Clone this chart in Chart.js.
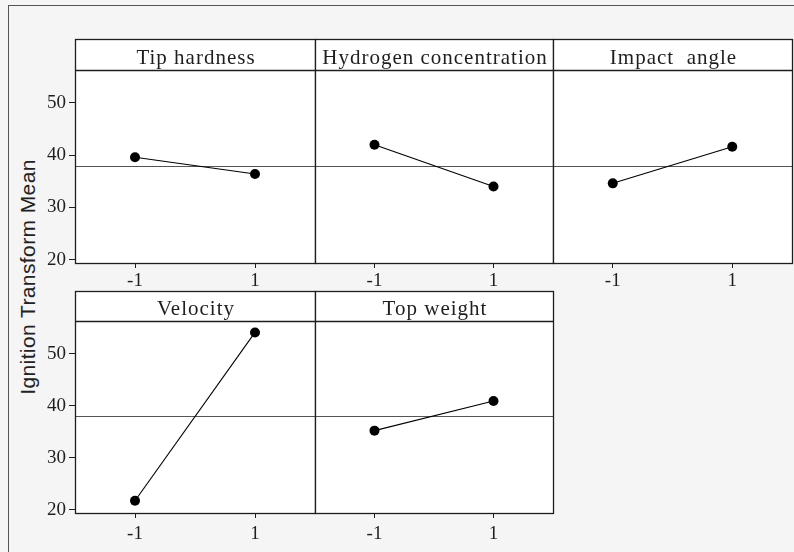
<!DOCTYPE html>
<html>
<head>
<meta charset="utf-8">
<script src="https://cdn.jsdelivr.net/npm/chart.js@4.4.1/dist/chart.umd.min.js"></script>
<style>
    html, body {
        margin: 0;
        padding: 0;
        width: 794px;
        height: 552px;
        overflow: hidden;
        background: #f5f5f5;
    }
    .outer-frame {
        position: absolute;
        left: 8px;
        top: 5px;
        width: 820px;
        height: 580px;
        border-left: 1px solid #555;
        border-top: 1px solid #555;
    }
    .panel {
        position: absolute;
    }
    .y-title {
        position: absolute;
        left: 28px;
        top: 277px;
        transform: translate(-50%, -50%) rotate(-90deg);
        white-space: nowrap;
        font-family: 'Liberation Sans', Arial, sans-serif;
        font-size: 21px;
        letter-spacing: 0.4px;
        color: #222;
    }
</style>
</head>
<body>
<div class="outer-frame"></div>
<div class="y-title">Ignition Transform Mean</div>

<script>
    // factor names (panel titles) and the two coded levels
    const factors = ['Tip hardness', 'Hydrogen concentration', 'Impact  angle', 'Velocity', 'Top weight'];
    const levels = [-1, 1];
    const levelLabels = ['-1', '1'];

    // mean response at each level
    const tipHardness = [39.6, 36.4];
    const hydrogenConcentration = [42.0, 34.0];
    const impactAngle = [34.6, 41.6];
    const velocity = [21.7, 54.1];
    const topWeight = [35.2, 40.9];

    const overallMean = 38.0;
    const yTicks = [20, 30, 40, 50];
    const yMin = 19.35;
    const yMax = 56.3;
    const xMin = -2;
    const xMax = 2;

    const seriesList = [tipHardness, hydrogenConcentration, impactAngle, velocity, topWeight];

    // page layout of the 2x3 grid (px)
    const rows = [
        { frameTop: 39, sep: 70, bottom: 263, labelPad: 2 },
        { frameTop: 291, sep: 321, bottom: 513, labelPad: 5 },
    ];
    const cols = [
        { left: 75, right: 315 },
        { left: 315, right: 553 },
        { left: 553, right: 792 },
    ];
    const MARGIN_L = 60;
    const MARGIN_B = 34;
    const MARGIN_R = 2;

    const serif = "'Liberation Serif', 'Times New Roman', serif";
    const ink = '#1e1e1e';

    // white panel, title strip, reference line and frame
    const panelPlugin = {
        id: 'panelFrame',
        beforeDraw(chart, args, opts) {
            const { ctx, chartArea } = chart;
            ctx.save();
            ctx.fillStyle = '#fff';
            ctx.fillRect(chartArea.left, opts.stripTop, chartArea.right - chartArea.left, chartArea.bottom - opts.stripTop);
            ctx.restore();
        },
        beforeDatasetsDraw(chart) {
            const { ctx, chartArea } = chart;
            const y = Math.round(chart.scales.y.getPixelForValue(overallMean)) + 0.5;
            ctx.save();
            ctx.strokeStyle = '#555';
            ctx.lineWidth = 1.2;
            ctx.beginPath();
            ctx.moveTo(chartArea.left, y);
            ctx.lineTo(chartArea.right, y);
            ctx.stroke();
            ctx.restore();
        },
        afterDraw(chart, args, opts) {
            const { ctx, chartArea } = chart;
            const l = Math.round(chartArea.left) + 0.5;
            const r = Math.round(chartArea.right) + 0.5;
            const t = opts.stripTop + 0.5;
            const s = Math.round(chartArea.top) + 0.5;
            const b = Math.round(chartArea.bottom) + 0.5;
            ctx.save();
            ctx.strokeStyle = ink;
            ctx.lineWidth = 1.3;
            ctx.strokeRect(l, t, r - l, b - t);
            ctx.beginPath();
            ctx.moveTo(l, s);
            ctx.lineTo(r, s);
            ctx.stroke();

            ctx.fillStyle = ink;
            ctx.font = '21px ' + serif;
            ctx.letterSpacing = '1px';
            ctx.textAlign = 'center';
            ctx.textBaseline = 'alphabetic';
            ctx.fillText(opts.title, (l + r) / 2 + 0.5, s - 7);
            ctx.restore();
        },
    };

    factors.forEach((title, i) => {
        const row = rows[Math.floor(i / 3)];
        const col = cols[i % 3];
        const firstCol = i % 3 === 0;

        const canvasTop = row.frameTop - 1;
        const width = col.right - col.left + MARGIN_L + MARGIN_R;
        const height = row.bottom - canvasTop + MARGIN_B;

        const canvas = document.createElement('canvas');
        canvas.className = 'panel';
        canvas.width = width;
        canvas.height = height;
        canvas.style.left = (col.left - MARGIN_L) + 'px';
        canvas.style.top = canvasTop + 'px';
        canvas.style.width = width + 'px';
        canvas.style.height = height + 'px';
        document.body.appendChild(canvas);

        const points = levels.map((lv, k) => ({ x: lv, y: seriesList[i][k] }));

        new Chart(canvas, {
            type: 'line',
            data: {
                datasets: [
                    {
                        data: points,
                        borderColor: '#000',
                        borderWidth: 1.1,
                        backgroundColor: '#000',
                        pointRadius: 5,
                        pointBorderWidth: 0,
                        pointBackgroundColor: '#000',
                        tension: 0,
                        fill: false,
                    },
                ],
            },
            options: {
                responsive: false,
                animation: false,
                devicePixelRatio: 1,
                layout: {
                    autoPadding: false,
                    padding: {
                        top: row.sep - canvasTop,
                        left: 0,
                        right: MARGIN_R,
                        bottom: 0,
                    },
                },
                plugins: {
                    legend: { display: false },
                    tooltip: { enabled: false },
                    panelFrame: { title: title, stripTop: 1 },
                },
                scales: {
                    x: {
                        type: 'linear',
                        min: xMin,
                        max: xMax,
                        afterBuildTicks: (scale) => {
                            scale.ticks = levels.map((v) => ({ value: v }));
                        },
                        afterFit: (scale) => {
                            scale.height = MARGIN_B;
                        },
                        grid: {
                            display: true,
                            drawOnChartArea: false,
                            drawTicks: true,
                            tickLength: 5,
                            color: ink,
                            lineWidth: 1,
                        },
                        border: { display: false },
                        ticks: {
                            padding: row.labelPad,
                            color: ink,
                            font: { family: serif, size: 19 },
                            maxRotation: 0,
                            callback: (value) => levelLabels[levels.indexOf(value)],
                        },
                    },
                    y: {
                        display: firstCol,
                        min: yMin,
                        max: yMax,
                        afterBuildTicks: (scale) => {
                            scale.ticks = yTicks.map((v) => ({ value: v }));
                        },
                        afterFit: (scale) => {
                            scale.width = MARGIN_L;
                        },
                        grid: {
                            display: true,
                            drawOnChartArea: false,
                            drawTicks: true,
                            tickLength: 6,
                            color: ink,
                            lineWidth: 1,
                        },
                        border: { display: false },
                        ticks: {
                            padding: 3,
                            color: ink,
                            font: { family: serif, size: 19 },
                        },
                    },
                },
            },
            plugins: [panelPlugin],
        });
    });
</script>
</body>
</html>
